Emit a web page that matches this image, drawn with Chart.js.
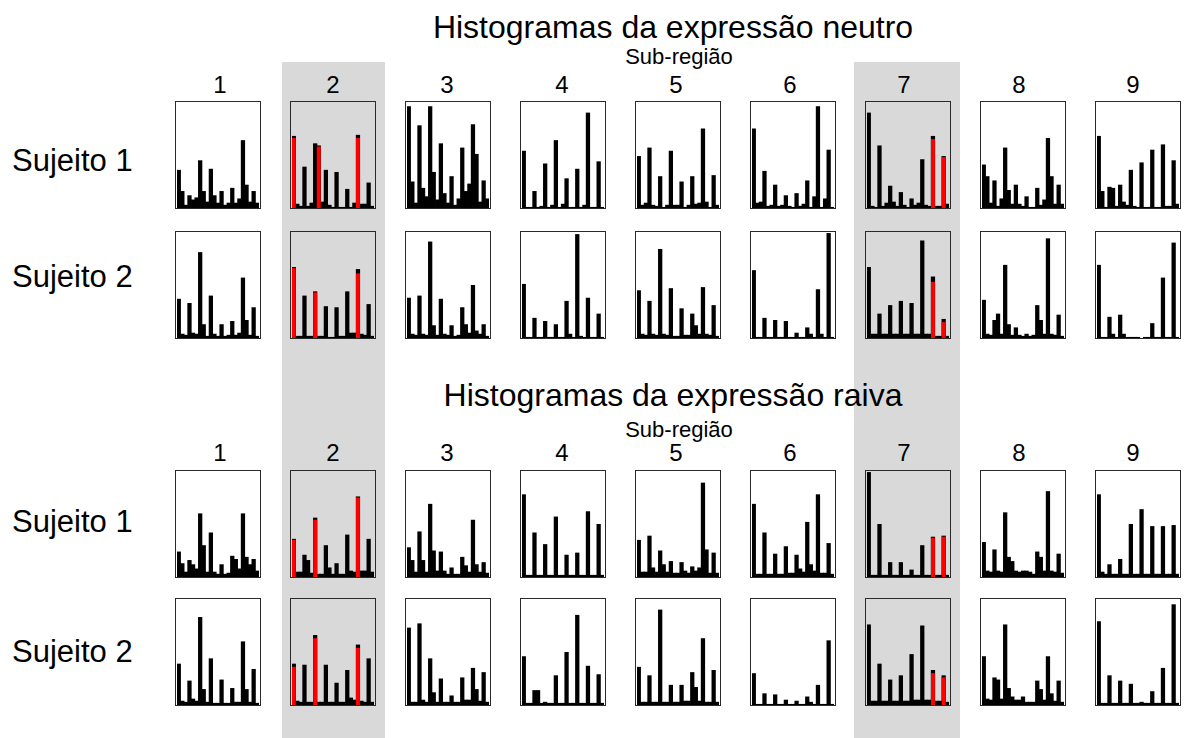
<!DOCTYPE html>
<html>
<head>
<meta charset="utf-8">
<script src="https://cdn.jsdelivr.net/npm/chart.js@4.4.0/dist/chart.umd.min.js"></script>
<style>
body { margin: 0; background: #fff; font-family: "Liberation Sans", Arial, sans-serif; }
#fig { position: relative; width: 1185px; height: 738px; overflow: hidden; }
.faixa { position: absolute; background: #d9d9d9; }
.txt { position: absolute; line-height: 1; white-space: nowrap; transform: translate(-50%, -50%); color: #000; }
.lbl { position: absolute; line-height: 1; white-space: nowrap; transform: translateY(-50%); font-size: 31px; color: #000; }
.painel { position: absolute; width: 86px; height: 108px; }
</style>
</head>
<body>
<div id="fig"></div>
<script>
// 23 bins por histograma
var bins = [];
for (var b = 1; b <= 23; b++) bins.push(String(b));

var subRegioes = ["1", "2", "3", "4", "5", "6", "7", "8", "9"];

// expressao neutro, sujeito 1 (sub-regioes 1..9)
var neutroS1 = [
  [36,16,3,12,8,10,45,16,6,37,12,5,16,3,5,19,5,9,64,22,6,16,5],
  [68,4,2,39,2,5,61,59,6,36,3,1,34,1,1,18,1,5,69,4,4,24,2],
  [96,25,5,78,19,11,96,34,8,61,14,5,30,3,9,57,16,23,79,51,6,26,9],
  [54,1,1,16,1,2,42,1,3,64,1,4,28,1,1,37,1,3,90,1,1,44,1],
  [49,3,5,57,3,2,30,1,3,54,3,3,25,1,3,30,4,5,75,6,1,31,3],
  [75,5,6,35,2,3,22,2,3,12,2,1,14,2,4,26,1,11,96,1,9,55,1],
  [90,2,1,59,2,5,21,6,2,15,3,1,9,3,5,46,3,2,68,2,2,49,4],
  [41,30,5,26,2,9,57,17,4,22,4,2,11,1,1,19,3,8,66,30,4,22,4],
  [68,16,1,20,19,2,22,6,3,36,2,1,43,1,1,55,1,1,60,2,2,45,4]
];

// expressao neutro, sujeito 2
var neutroS2 = [
  [37,4,3,33,5,4,81,13,2,40,4,2,13,2,3,16,3,5,57,17,3,29,2],
  [67,2,2,40,2,2,44,2,2,30,1,1,29,2,2,44,5,5,65,4,3,32,2],
  [38,4,3,40,4,3,91,12,3,37,4,3,12,2,3,29,13,5,50,7,4,13,2],
  [51,1,1,19,1,1,16,1,1,13,1,1,35,4,1,98,2,1,38,1,1,23,1],
  [45,4,3,35,4,3,84,4,3,47,2,2,28,3,3,23,12,4,48,4,3,31,2],
  [64,1,1,19,1,1,17,1,1,16,1,1,5,1,1,10,4,1,46,4,1,99,1],
  [67,4,4,23,4,4,31,4,4,35,4,4,33,4,4,92,4,4,58,2,2,18,2],
  [36,4,3,17,23,4,69,13,3,10,3,2,4,2,3,31,17,4,94,4,3,22,2],
  [69,1,1,20,4,1,22,4,1,1,1,1,0,1,1,14,1,1,57,1,1,90,1]
];

// expressao raiva, sujeito 1
var raivaS1 = [
  [24,13,5,16,12,8,60,30,5,42,5,3,12,3,4,20,17,8,60,19,12,17,6],
  [36,5,5,21,16,4,56,3,3,30,9,3,13,3,3,40,6,5,76,6,6,36,5],
  [28,16,5,43,16,5,69,25,6,24,6,3,9,3,3,19,11,5,54,12,5,14,4],
  [78,2,2,42,2,2,31,2,2,57,2,2,21,2,2,23,2,2,62,2,2,50,2],
  [35,5,5,39,9,5,25,12,5,15,4,4,14,6,4,10,6,9,89,26,4,23,4],
  [69,3,3,42,3,3,22,3,3,29,4,4,21,8,5,52,12,6,78,4,4,32,3],
  [99,2,2,50,2,2,14,2,2,14,2,2,7,2,2,30,2,2,38,2,2,39,2],
  [33,6,5,26,6,5,61,19,15,6,5,6,6,5,3,24,19,6,81,6,5,22,4],
  [78,5,3,12,3,3,17,3,3,50,3,3,64,3,3,48,3,3,48,3,3,49,3]
];

// expressao raiva, sujeito 2
var raivaS2 = [
  [39,4,3,23,6,4,83,15,3,44,2,2,24,2,2,16,3,3,60,15,3,34,2],
  [39,4,3,38,3,3,66,3,3,38,3,3,21,3,3,33,7,5,57,4,3,44,3],
  [73,3,3,77,5,3,44,12,3,25,3,3,9,3,3,26,5,5,35,15,4,31,3],
  [46,2,2,14,14,2,3,2,2,28,2,2,50,2,2,85,2,2,37,2,2,29,2],
  [36,3,3,28,3,3,90,3,3,19,3,3,19,4,4,31,17,4,63,3,3,33,3],
  [30,1,1,11,1,1,10,1,1,5,1,1,4,1,1,8,3,1,19,1,1,61,1],
  [76,4,4,39,4,4,24,4,4,28,4,4,48,5,5,75,5,5,33,4,4,28,3],
  [46,6,5,26,24,6,76,16,8,5,5,8,3,3,3,23,15,5,46,11,4,23,3],
  [79,2,2,28,2,2,23,2,2,20,2,2,3,2,2,13,2,2,35,2,2,95,2]
];

// bins destacados em vermelho: [bin, valor] por sub-regiao (indice da coluna)
var vermelhoNeutroS1 = { 1: [[0, 66], [7, 58], [18, 66]], 6: [[18, 65], [21, 48]] };
var vermelhoNeutroS2 = { 1: [[0, 66], [6, 43], [18, 61]], 6: [[18, 53], [21, 15]] };
var vermelhoRaivaS1 = { 1: [[0, 35], [6, 54], [18, 75]], 6: [[18, 37], [21, 38]] };
var vermelhoRaivaS2 = { 1: [[0, 36], [6, 63], [18, 54]], 6: [[18, 30], [21, 26]] };

var fig = document.getElementById('fig');

// posicoes
var colX = [175, 290, 405, 520, 635, 750, 865, 980, 1095];
var numX = [220, 333, 447, 562, 676, 790, 904, 1019, 1133];

function texto(str, x, y, size, cls) {
  var d = document.createElement('div');
  d.className = cls || 'txt';
  d.textContent = str;
  d.style.left = x + 'px';
  d.style.top = y + 'px';
  if (size) d.style.fontSize = size + 'px';
  fig.appendChild(d);
}

// faixas cinzas das sub-regioes 2 e 7
[[282, 385], [854, 960]].forEach(function (f) {
  var d = document.createElement('div');
  d.className = 'faixa';
  d.style.left = f[0] + 'px';
  d.style.width = (f[1] - f[0]) + 'px';
  d.style.top = '62px';
  d.style.height = '676px';
  fig.appendChild(d);
});

// moldura em volta de cada histograma
var moldura = {
  id: 'moldura',
  afterDraw: function (c) {
    var ctx = c.ctx;
    ctx.save();
    ctx.strokeStyle = '#2a2a2a';
    ctx.lineWidth = 1;
    ctx.strokeRect(0.5, 0.5, c.width - 1, c.height - 1);
    ctx.restore();
  }
};

function painel(x, y, valores, vermelho) {
  var div = document.createElement('div');
  div.className = 'painel';
  div.style.left = x + 'px';
  div.style.top = y + 'px';
  var cv = document.createElement('canvas');
  div.appendChild(cv);
  fig.appendChild(div);

  var red = valores.map(function () { return null; });
  (vermelho || []).forEach(function (p) { red[p[0]] = p[1]; });

  new Chart(cv, {
    type: 'bar',
    data: {
      labels: bins,
      datasets: [
        { data: red, backgroundColor: '#ff0000', order: 0, grouped: false, barPercentage: 1.1, categoryPercentage: 1 },
        { data: valores, backgroundColor: '#000', order: 1, grouped: false, barPercentage: 1.2, categoryPercentage: 1 }
      ]
    },
    options: {
      responsive: true,
      maintainAspectRatio: false,
      animation: false,
      layout: { padding: { left: 2, right: 2, top: 1, bottom: 1 } },
      plugins: { legend: { display: false }, tooltip: { enabled: false } },
      scales: {
        x: { display: false },
        y: { display: false, min: 0, max: 100 }
      }
    },
    plugins: [moldura]
  });
}

function bloco(titulo, yTitulo, ySub, yNum, linhas) {
  texto(titulo, 673, yTitulo, 32);
  texto('Sub-região', 679, ySub, 22);
  subRegioes.forEach(function (s, i) { texto(s, numX[i], yNum, 24); });
  linhas.forEach(function (l) {
    texto(l.nome, 12, l.yLabel, null, 'lbl');
    l.dados.forEach(function (v, i) {
      painel(colX[i], l.top, v, l.vermelho[i]);
    });
  });
}

bloco('Histogramas da expressão neutro', 27, 57, 85, [
  { nome: 'Sujeito 1', yLabel: 160, top: 101, dados: neutroS1, vermelho: vermelhoNeutroS1 },
  { nome: 'Sujeito 2', yLabel: 276, top: 231, dados: neutroS2, vermelho: vermelhoNeutroS2 }
]);

bloco('Histogramas da expressão raiva', 395, 430, 453, [
  { nome: 'Sujeito 1', yLabel: 521, top: 470, dados: raivaS1, vermelho: vermelhoRaivaS1 },
  { nome: 'Sujeito 2', yLabel: 651, top: 598, dados: raivaS2, vermelho: vermelhoRaivaS2 }
]);
</script>
</body>
</html>
